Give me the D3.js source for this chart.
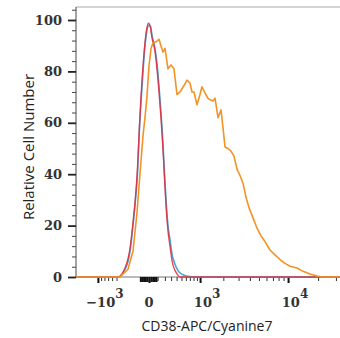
<!DOCTYPE html>
<html>
<head>
<meta charset="utf-8">
<script src="https://cdn.jsdelivr.net/npm/d3@7"></script>
<style>
  body { margin: 0; background: #fff; }
  #chart { width: 340px; height: 338px; }
  .axis path { display: none; }
</style>
</head>
<body>
<div id="chart"></div>
<script>
// fluorescence values (biexponential axis) and relative counts
const orangeX = [-1926, -652, -428, -281, -202, -144, -105, -67, -44, -22, 0, 22, 44, 79, 118, 144, 172, 202, 248, 298, 351, 408, 469, 557, 628, 704, 757, 813, 902, 997, 1064, 1170, 1284, 1364, 1491, 1581, 1723, 1875, 1982, 2093, 2271, 2461, 2664, 2881, 3113, 3362, 3627, 3910, 4320, 4768, 5256, 5790, 6529, 7357, 8282, 9316, 10467, 12320, 14150, 16630, 19510, 21880, 32900];
const orangeY = [0, 0, 0, 3, 10, 25, 40, 55, 62, 70, 82, 89, 91, 91.5, 92.5, 90, 87.5, 89, 81, 82.5, 81, 71, 72, 74.5, 76.6, 75.5, 72, 72, 67, 71, 74, 71.6, 69.5, 69, 68.5, 69.6, 62, 65, 58, 50.6, 50, 49, 47, 42, 39.5, 36.5, 31, 27, 23, 19, 16, 13.8, 10.5, 8.6, 6.8, 5.3, 4.2, 3.5, 2.2, 1.2, 0.4, 0, 0];

const blueX = [-1926, -469, -389, -333, -281, -248, -202, -172, -138, -111, -92, -67, -44, -22, 0, 16, 33, 67, 92, 118, 144, 172, 194, 217, 248, 281, 315, 370, 428, 512, 652, 813, 32900];
const blueY = [0, 0, 1, 3, 6, 10, 20, 28, 40, 58, 68, 80, 90, 96, 98, 97.5, 94, 89, 83, 74, 64, 52, 40, 30, 20, 14.5, 9, 5, 2.5, 1, 0.3, 0, 0];

const redX = [-1926, -469, -389, -333, -281, -248, -202, -172, -138, -111, -92, -67, -44, -22, -5, 16, 33, 67, 92, 118, 144, 172, 194, 217, 248, 281, 315, 351, 408, 469, 32900];
const redY = [0, 0, 1.2, 3.5, 7, 11, 21, 29, 42, 59, 70, 82, 91, 97, 98.8, 97, 93, 88, 81, 72, 62, 50, 39, 28, 18, 12, 6.5, 3.5, 1.2, 0, 0];

const yMajor = [0, 20, 40, 60, 80, 100];
const yMinor = [4, 8, 12, 16, 24, 28, 32, 36, 44, 48, 52, 56, 64, 68, 72, 76, 84, 88, 92, 96, 104];
const xMajor = [-1000, 0, 1000, 10000];
const xLabels = [["\u221210", "3"], ["0", ""], ["10", "3"], ["10", "4"]];
const xMinor = [-900, -800, -700, -600, -500, 100, 200, 300, 400, 500, 600, 700, 800, 900,
  2000, 3000, 4000, 5000, 6000, 7000, 8000, 9000, 20000, 30000];
const xCluster = [-100, -80, -60, -40, -20, 20, 40, 60, 80];

const width = 340, height = 338;
const margin = { top: 7, right: 340, bottom: 277, left: 76 };

const svg = d3.select("#chart").append("svg")
  .attr("width", width)
  .attr("height", height);

const x = d3.scaleSymlog().constant(470)
  .domain([-1926, 32900])
  .range([margin.left, margin.right]);

const y = d3.scaleLinear()
  .domain([0, 100])
  .range([margin.bottom, 20]);

// frame
svg.append("line")
  .attr("x1", margin.left).attr("x2", margin.right).attr("y1", margin.top).attr("y2", margin.top)
  .attr("stroke", "#aaa").attr("stroke-width", 1);
svg.append("line")
  .attr("x1", margin.left).attr("x2", margin.left).attr("y1", margin.top).attr("y2", margin.bottom)
  .attr("stroke", "#666").attr("stroke-width", 1.2);
svg.append("line")
  .attr("x1", margin.left).attr("x2", margin.right).attr("y1", margin.bottom).attr("y2", margin.bottom)
  .attr("stroke", "#777").attr("stroke-width", 1.2);

// y axis
svg.append("g")
  .attr("class", "axis")
  .attr("transform", `translate(${margin.left},0)`)
  .call(d3.axisLeft(y).tickValues(yMinor).tickSize(4).tickFormat(""))
  .selectAll("line").attr("stroke", "#444").attr("stroke-width", 1);

const yAx = svg.append("g")
  .attr("class", "axis")
  .attr("transform", `translate(${margin.left},0)`)
  .call(d3.axisLeft(y).tickValues(yMajor).tickSize(8).tickPadding(6));
yAx.selectAll("line").attr("stroke", "#222").attr("stroke-width", 1.8);
yAx.selectAll("text")
  .attr("font-family", "DejaVu Serif")
  .attr("font-weight", "bold")
  .attr("font-size", 13)
  .attr("fill", "#333");

// x axis
svg.append("g")
  .attr("class", "axis")
  .attr("transform", `translate(0,${margin.bottom})`)
  .call(d3.axisBottom(x).tickValues(xMinor).tickSize(4).tickFormat(""))
  .selectAll("line").attr("stroke", "#333").attr("stroke-width", 1);

svg.append("g")
  .attr("class", "axis")
  .attr("transform", `translate(0,${margin.bottom})`)
  .call(d3.axisBottom(x).tickValues(xCluster).tickSize(5).tickFormat(""))
  .selectAll("line").attr("stroke", "#111").attr("stroke-width", 2);

svg.append("g")
  .attr("class", "axis")
  .attr("transform", `translate(0,${margin.bottom})`)
  .call(d3.axisBottom(x).tickValues(xMajor).tickSize(6).tickFormat(""))
  .selectAll("line").attr("stroke", "#111").attr("stroke-width", 2);

const lab = svg.append("g")
  .selectAll("text")
  .data(xMajor)
  .join("text")
  .attr("x", (d, i) => x(d) + (xLabels[i][1] ? 7 : 0))
  .attr("y", 307)
  .attr("text-anchor", "middle")
  .attr("font-family", "DejaVu Serif")
  .attr("font-weight", "bold")
  .attr("font-size", 13)
  .attr("fill", "#333");
lab.append("tspan").text((d, i) => xLabels[i][0]);
lab.append("tspan")
  .attr("dy", -9)
  .attr("font-size", 12)
  .text((d, i) => xLabels[i][1]);

// curves
const line = d3.line()
  .x(d => x(d[0]))
  .y(d => y(d[1]));

svg.append("path")
  .datum(d3.zip(blueX, blueY))
  .attr("fill", "none")
  .attr("stroke", "#4ba3dc")
  .attr("stroke-width", 1.6)
  .attr("d", line.curve(d3.curveMonotoneX));

svg.append("path")
  .datum(d3.zip(redX, redY))
  .attr("fill", "none")
  .attr("stroke", "#e42a34")
  .attr("stroke-width", 1.4)
  .attr("stroke-opacity", 0.85)
  .attr("d", line.curve(d3.curveMonotoneX));

svg.append("path")
  .datum(d3.zip(orangeX, orangeY))
  .attr("fill", "none")
  .attr("stroke", "#f39325")
  .attr("stroke-width", 1.6)
  .attr("stroke-linejoin", "round")
  .attr("d", line.curve(d3.curveLinear));

// titles
svg.append("text")
  .attr("transform", "translate(28,147) rotate(-90)")
  .attr("text-anchor", "middle")
  .attr("dominant-baseline", "central")
  .attr("font-family", "Open Sans")
  .attr("font-size", 15)
  .attr("fill", "#222")
  .text("Relative Cell Number");

svg.append("text")
  .attr("x", 207)
  .attr("y", 325)
  .attr("text-anchor", "middle")
  .attr("dominant-baseline", "central")
  .attr("font-family", "Open Sans")
  .attr("font-size", 14)
  .attr("fill", "#222")
  .text("CD38-APC/Cyanine7");
</script>
</body>
</html>
